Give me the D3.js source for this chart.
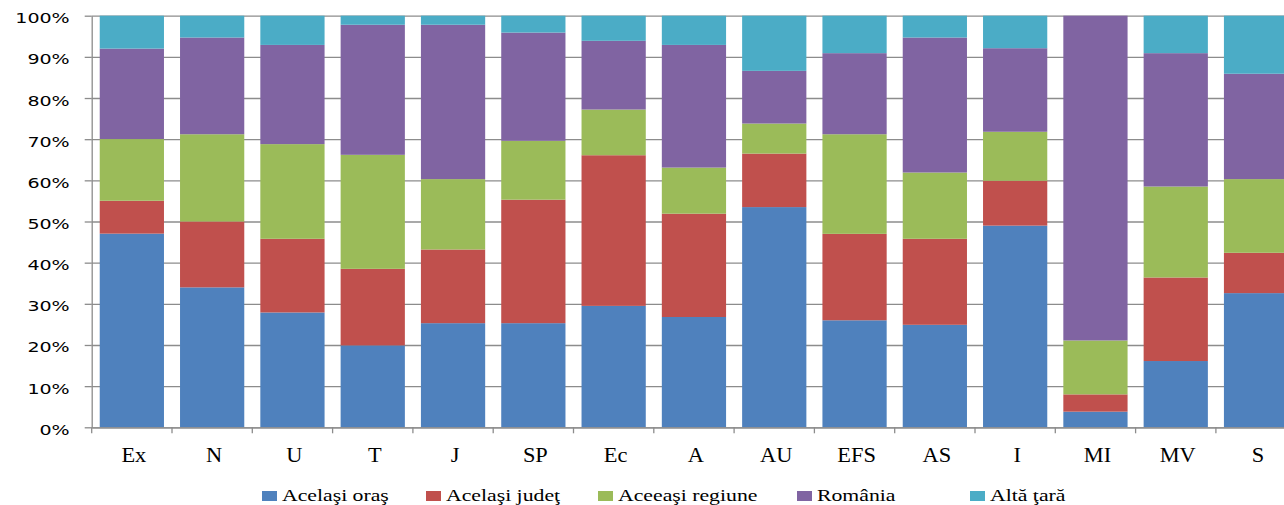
<!DOCTYPE html>
<html>
<head>
<meta charset="utf-8">
<script src="https://cdn.jsdelivr.net/npm/d3@7"></script>
<style>
  body { margin: 0; background: #fff; }
  svg { display: block; }
</style>
</head>
<body>
<div id="chart"></div>
<script>
// Categories and series (percent of each bar).
const categories = ['Ex', 'N', 'U', 'T', 'J', 'SP', 'Ec', 'A', 'AU', 'EFS', 'AS', 'I', 'MI', 'MV', 'S'];
const seriesNames = ['Acelaşi oraş', 'Acelaşi judeţ', 'Aceeaşi regiune', 'România', 'Altă ţară'];
const acelasiOras    = [47.1, 34.0, 27.9, 19.9, 25.3, 25.3, 29.5, 26.8, 53.5, 26.0, 24.9, 49.0, 3.8, 16.1, 32.6];
const acelasiJudet   = [8.0, 16.0, 17.9, 18.6, 17.9, 30.0, 36.6, 25.1, 13.0, 21.0, 20.9, 10.9, 4.2, 20.3, 9.8];
const aceeasiRegiune = [15.0, 21.2, 23.0, 27.7, 17.1, 14.3, 11.1, 11.2, 7.3, 24.2, 16.1, 11.9, 13.1, 22.1, 17.9];
const romania        = [22.0, 23.5, 24.1, 31.6, 37.5, 26.3, 16.7, 29.8, 12.8, 19.7, 32.8, 20.3, 78.9, 32.4, 25.6];
const altaTara       = [8.0, 5.3, 7.1, 2.2, 2.2, 4.1, 6.1, 7.1, 13.4, 9.1, 5.3, 7.9, 0.0, 9.1, 14.1];
const yTicks = [0, 0.1, 0.2, 0.3, 0.4, 0.5, 0.6, 0.7, 0.8, 0.9, 1];

const colors = ['#4f81bd', '#c0504d', '#9bbb59', '#8064a2', '#4bacc6'];

// Build table for d3.stack.
const allSeries = [acelasiOras, acelasiJudet, aceeasiRegiune, romania, altaTara];
const table = categories.map((c, i) => {
  const row = {cat: c};
  seriesNames.forEach((s, j) => { row[s] = allSeries[j][i]; });
  return row;
});

const width = 1284;
const height = 505;
const plot = {left: 91.7, top: 15.7, bottom: 427.3, right: 1296.2};
const gridColor = '#8c8c8c';

const svg = d3.select('#chart')
  .append('svg')
  .attr('width', width)
  .attr('height', height);

const x = d3.scaleBand()
  .domain(categories)
  .range([plot.left, plot.right])
  .paddingInner(0.2)
  .paddingOuter(0.1);

const y = d3.scaleLinear()
  .domain([0, 1])
  .range([plot.bottom, plot.top]);

// Gridlines behind the bars.
svg.append('g')
  .attr('class', 'grid')
  .attr('transform', `translate(${plot.left},0)`)
  .call(d3.axisLeft(y).tickValues(yTicks).tickSize(-(plot.right - plot.left)).tickFormat(''))
  .call(g => g.select('.domain').remove())
  .call(g => g.selectAll('line').attr('stroke', gridColor).attr('stroke-width', 1.3));

// Stacked bars, normalized to 100%.
const stacked = d3.stack()
  .keys(seriesNames)
  .offset(d3.stackOffsetExpand)(table);

svg.append('g')
  .selectAll('g')
  .data(stacked)
  .enter()
  .append('g')
  .attr('fill', (d, i) => colors[i])
  .selectAll('rect')
  .data(d => d)
  .enter()
  .append('rect')
  .attr('x', d => x(d.data.cat))
  .attr('y', d => y(d[1]))
  .attr('width', x.bandwidth())
  .attr('height', d => y(d[0]) - y(d[1]));

// Y axis.
const yAxis = svg.append('g')
  .attr('transform', `translate(${plot.left},0)`)
  .call(d3.axisLeft(y).tickValues(yTicks).tickSizeInner(7).tickSizeOuter(0).tickFormat(d3.format('.0%')));
yAxis.select('.domain').attr('stroke', gridColor).attr('stroke-width', 1.3);
yAxis.selectAll('.tick line').attr('stroke', gridColor).attr('stroke-width', 1.3);
yAxis.selectAll('.tick text')
  .attr('x', 0)
  .attr('dy', '0.5em')
  .attr('transform', 'translate(-22,0) scale(1.36,1)')
  .style('font-family', '"DejaVu Sans", Verdana, sans-serif')
  .style('font-size', '14px')
  .attr('fill', '#000');

// X axis: line and labels (ticks sit on the band boundaries, below).
const xAxis = svg.append('g')
  .attr('transform', `translate(0,${plot.bottom})`)
  .call(d3.axisBottom(x).tickSize(0).tickSizeOuter(0));
xAxis.select('.domain').attr('stroke', gridColor).attr('stroke-width', 1.3);
xAxis.selectAll('.tick text')
  .attr('x', 0)
  .attr('y', 35)
  .attr('dy', 0)
  .attr('transform', 'translate(2,0) scale(1.12,1)')
  .attr('fill', '#000')
  .style('font-family', '"Liberation Serif", "Times New Roman", serif')
  .style('font-size', '20px');

const boundaries = categories.map(c => x(c) - x.step() * x.paddingOuter());
boundaries.push(plot.right);
svg.append('g')
  .selectAll('line')
  .data(boundaries)
  .enter()
  .append('line')
  .attr('x1', d => d)
  .attr('x2', d => d)
  .attr('y1', plot.bottom)
  .attr('y2', plot.bottom + 6)
  .attr('stroke', gridColor)
  .attr('stroke-width', 1.3);

// Legend.
const legendX = [262, 426, 598, 797, 970];
const legend = svg.append('g')
  .selectAll('g')
  .data(seriesNames)
  .enter()
  .append('g')
  .attr('transform', (d, i) => `translate(${legendX[i]},491)`);

legend.append('rect')
  .attr('width', 15)
  .attr('height', 10)
  .attr('fill', (d, i) => colors[i]);

legend.append('text')
  .attr('transform', 'translate(20,10) scale(1.36,1)')
  .style('font-family', '"Liberation Serif", "Times New Roman", serif')
  .style('font-size', '16px')
  .attr('fill', '#000')
  .text(d => d);
</script>
</body>
</html>
